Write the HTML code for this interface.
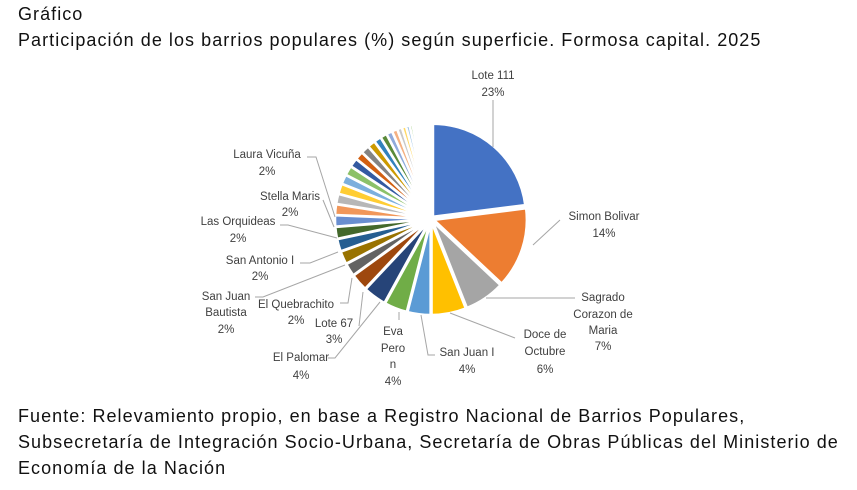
<!DOCTYPE html>
<html><head><meta charset="utf-8"><style>
body{margin:0;background:#fff;width:857px;height:490px;overflow:hidden;font-family:"Liberation Sans",sans-serif;}
.t{position:absolute;left:18px;font-size:18px;color:#111;letter-spacing:1.05px;white-space:nowrap}
svg text{font-family:"Liberation Sans",sans-serif;font-size:11.5px;fill:#404040;text-anchor:middle}
</style></head><body>
<div class="t" style="top:4px">Gráfico</div>
<div class="t" style="top:30px">Participación de los barrios populares (%) según superficie. Formosa capital. 2025</div>
<div class="t" style="top:403px;line-height:26px">Fuente: Relevamiento propio, en base a Registro Nacional de Barrios Populares,<br>Subsecretaría de Integración Socio-Urbana, Secretaría de Obras Públicas del Ministerio de<br>Economía de la Nación</div>
<svg id="s" width="857" height="490" style="position:absolute;left:0;top:0">
<g id="pie"></g>
<g stroke="#a6a6a6" fill="none" stroke-width="1">
<polyline points="493,100 493,147"/>
<polyline points="533,245 560,220"/>
<polyline points="486,298 575,298"/>
<polyline points="450,313 515,338"/>
<polyline points="421,315 428,355 435,355"/>
<polyline points="399,320 399,312"/>
<polyline points="328,358 335,358 380,302"/>
<polyline points="359,326 363,292"/>
<polyline points="340,303 348,303 352,278"/>
<polyline points="255,297 263,297 345,265"/>
<polyline points="300,263 310,263 338,252"/>
<polyline points="280,225 288,225 337,238"/>
<polyline points="323,200 334,227"/>
<polyline points="307,157 316,157 335,217"/>
</g>
<text x="493" y="79">Lote 111</text><text x="493" y="96">23%</text>
<text x="604" y="220">Simon Bolivar</text><text x="604" y="237">14%</text>
<text x="603" y="301">Sagrado</text><text x="603" y="318">Corazon de</text><text x="603" y="334">Maria</text><text x="603" y="350">7%</text>
<text x="545" y="338">Doce de</text><text x="545" y="355">Octubre</text><text x="545" y="373">6%</text>
<text x="467" y="356">San Juan I</text><text x="467" y="373">4%</text>
<text x="393" y="335">Eva</text><text x="393" y="352">Pero</text><text x="393" y="368">n</text><text x="393" y="385">4%</text>
<text x="301" y="361">El Palomar</text><text x="301" y="379">4%</text>
<text x="334" y="327">Lote 67</text><text x="334" y="343">3%</text>
<text x="296" y="308">El Quebrachito</text><text x="296" y="324">2%</text>
<text x="226" y="300">San Juan</text><text x="226" y="316">Bautista</text><text x="226" y="333">2%</text>
<text x="260" y="264">San Antonio I</text><text x="260" y="280">2%</text>
<text x="238" y="225">Las Orquideas</text><text x="238" y="242">2%</text>
<text x="290" y="200">Stella Maris</text><text x="290" y="216">2%</text>
<text x="267" y="158">Laura Vicuña</text><text x="267" y="175">2%</text>
</svg>
<script>
var main=[23,14,7,6,4,4,4,3];
var tail=[2.2,2.2,2.1,2.0,1.9,1.8,1.7,1.7,1.6,1.6,1.5,1.4,1.4,1.3,1.2,1.1,1.0,0.9,0.8,0.7,0.6,0.5,0.4,0.4,0.4,0.3,0.3,0.3,0.3,0.3,0.3];
var ts=tail.reduce((a,b)=>a+b,0);tail=tail.map(v=>v*35/ts);
var vals=main.concat(tail);
var cols=["#4472C4","#ED7D31","#A5A5A5","#FFC000","#5B9BD5","#70AD47","#264478","#9E480E","#636363","#997300","#255E91","#43682B","#698ED0","#F1975A","#B7B7B7","#FFCD33","#7CAFDD","#8CC168","#335AA1","#D26012","#848484","#CC9A00","#3282BD","#5A8A39","#8FAADC","#F4B183","#C9C9C9","#FFD966","#9DC3E6","#A9D18E","#2F5597","#C55A11","#7B7B7B","#BF9000","#2E75B6","#548235","#B4C7E7","#F8CBAD","#DBDBDB"];
var cx=431,cy=219,r=93,a=0,g=document.getElementById("pie"),h="";
vals.forEach(function(v,i){
 var a0=a,a1=a+v/100*2*Math.PI;a=a1;var m=(a0+a1)/2,ex=3;
 var ox=cx+ex*Math.sin(m),oy=cy-ex*Math.cos(m);
 var x0=ox+r*Math.sin(a0),y0=oy-r*Math.cos(a0),x1=ox+r*Math.sin(a1),y1=oy-r*Math.cos(a1);
 h+='<path d="M'+ox+','+oy+'L'+x0+','+y0+'A'+r+','+r+' 0 '+(a1-a0>Math.PI?1:0)+' 1 '+x1+','+y1+'Z" fill="'+cols[i%cols.length]+'" stroke="#fff" stroke-width="2.5"/>';
});
g.innerHTML=h;
</script>
</body></html>
